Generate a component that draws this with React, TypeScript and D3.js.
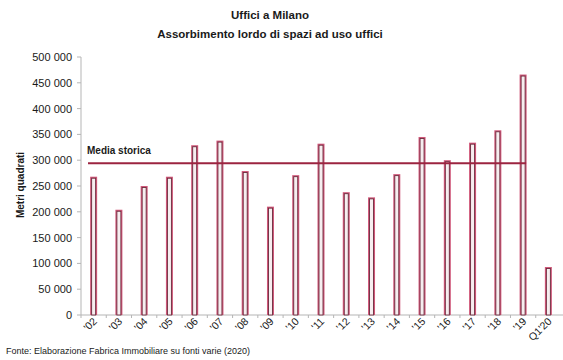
import React from "react";
import * as d3 from "d3";

const categories = ["'02", "'03", "'04", "'05", "'06", "'07", "'08", "'09", "'10", "'11", "'12", "'13", "'14", "'15", "'16", "'17", "'18", "'19", "Q1'20"];
const absorption = [268000, 204000, 250000, 268000, 329000, 338000, 279000, 210000, 271000, 332000, 238000, 228000, 273000, 345000, 300000, 334000, 358000, 466000, 93000];
const historicalAverage = 294000;
const yTicks = [0, 50000, 100000, 150000, 200000, 250000, 300000, 350000, 400000, 450000, 500000];

const W = 563;
const H = 360;
const margin = { left: 81, right: 2, top: 57, bottom: 45 };
const FONT = "'Liberation Sans', Arial, sans-serif";

const fmt = (v: number) => d3.format(",")(v).replace(/,/g, " ");

export default function App() {
  const x = d3
    .scaleBand<string>()
    .domain(categories)
    .range([margin.left, W - margin.right])
    .paddingInner(0)
    .paddingOuter(0);
  const y = d3.scaleLinear().domain([0, 500000]).range([H - margin.bottom, margin.top]);
  const barW = 7;
  const y0 = y(0);

  return (
    <svg
      width={W}
      height={H}
      style={{ position: "absolute", left: 0, top: 0, background: "#fff" }}
      fontFamily={FONT}
    >
      <text x={270} y={19} textAnchor="middle" fontSize={11.5} fontWeight="bold" fill="#1a1a1a">
        Uffici a Milano
      </text>
      <text x={270} y={38} textAnchor="middle" fontSize={11.5} fontWeight="bold" fill="#1a1a1a">
        Assorbimento lordo di spazi ad uso uffici
      </text>

      {/* y axis */}
      <line x1={margin.left} x2={margin.left} y1={y(500000)} y2={y0} stroke="#b5b5b5" strokeWidth={1} />
      {yTicks.map((t) => (
        <g key={t}>
          <line x1={margin.left - 4} x2={margin.left} y1={y(t)} y2={y(t)} stroke="#b5b5b5" />
          <text x={72} y={y(t) + 4} textAnchor="end" fontSize={11} fill="#1a1a1a">
            {fmt(t)}
          </text>
        </g>
      ))}
      <text
        transform="translate(24,185) rotate(-90)"
        textAnchor="middle"
        fontSize={10}
        fontWeight="bold"
        fill="#1a1a1a"
      >
        Metri quadrati
      </text>

      {/* x axis */}
      <line x1={margin.left} x2={W} y1={y0} y2={y0} stroke="#b5b5b5" />
      {categories.map((c) => (
        <line key={c} x1={x(c)!} x2={x(c)!} y1={y0} y2={y0 + 3} stroke="#b5b5b5" />
      ))}

      {/* bars */}
      {categories.map((c, i) => {
        const cx = x(c)! + x.bandwidth() / 2;
        const top = y(absorption[i]);
        return (
          <g key={c}>
            <rect x={cx - barW / 2} y={top} width={barW} height={y0 - top} fill="#d0587a" />
            <rect
              x={cx - barW / 2 + 1.5}
              y={top + 1.5}
              width={barW - 3}
              height={y0 - top - 1.5}
              fill="#f6eef0"
              stroke="#6b2b3c"
              strokeWidth={0.9}
            />
          </g>
        );
      })}

      {/* historical average */}
      <line
        x1={88}
        x2={x("'19")! + x.bandwidth() / 2 + 3}
        y1={y(historicalAverage)}
        y2={y(historicalAverage)}
        stroke="#9c2440"
        strokeWidth={2}
      />
      <text x={87} y={y(historicalAverage) - 9} fontSize={10} fontWeight="bold" fill="#1a1a1a">
        Media storica
      </text>

      {/* category labels */}
      {categories.map((c) => {
        const cx = x(c)! + x.bandwidth() / 2;
        return (
          <text
            key={c}
            transform={`translate(${cx + 4},${y0 + 7}) rotate(-45)`}
            textAnchor="end"
            fontSize={10.5}
            fill="#1a1a1a"
          >
            {c}
          </text>
        );
      })}

      <text x={6} y={354} fontSize={9} fill="#1a1a1a">
        Fonte: Elaborazione Fabrica Immobiliare su fonti varie (2020)
      </text>
    </svg>
  );
}
